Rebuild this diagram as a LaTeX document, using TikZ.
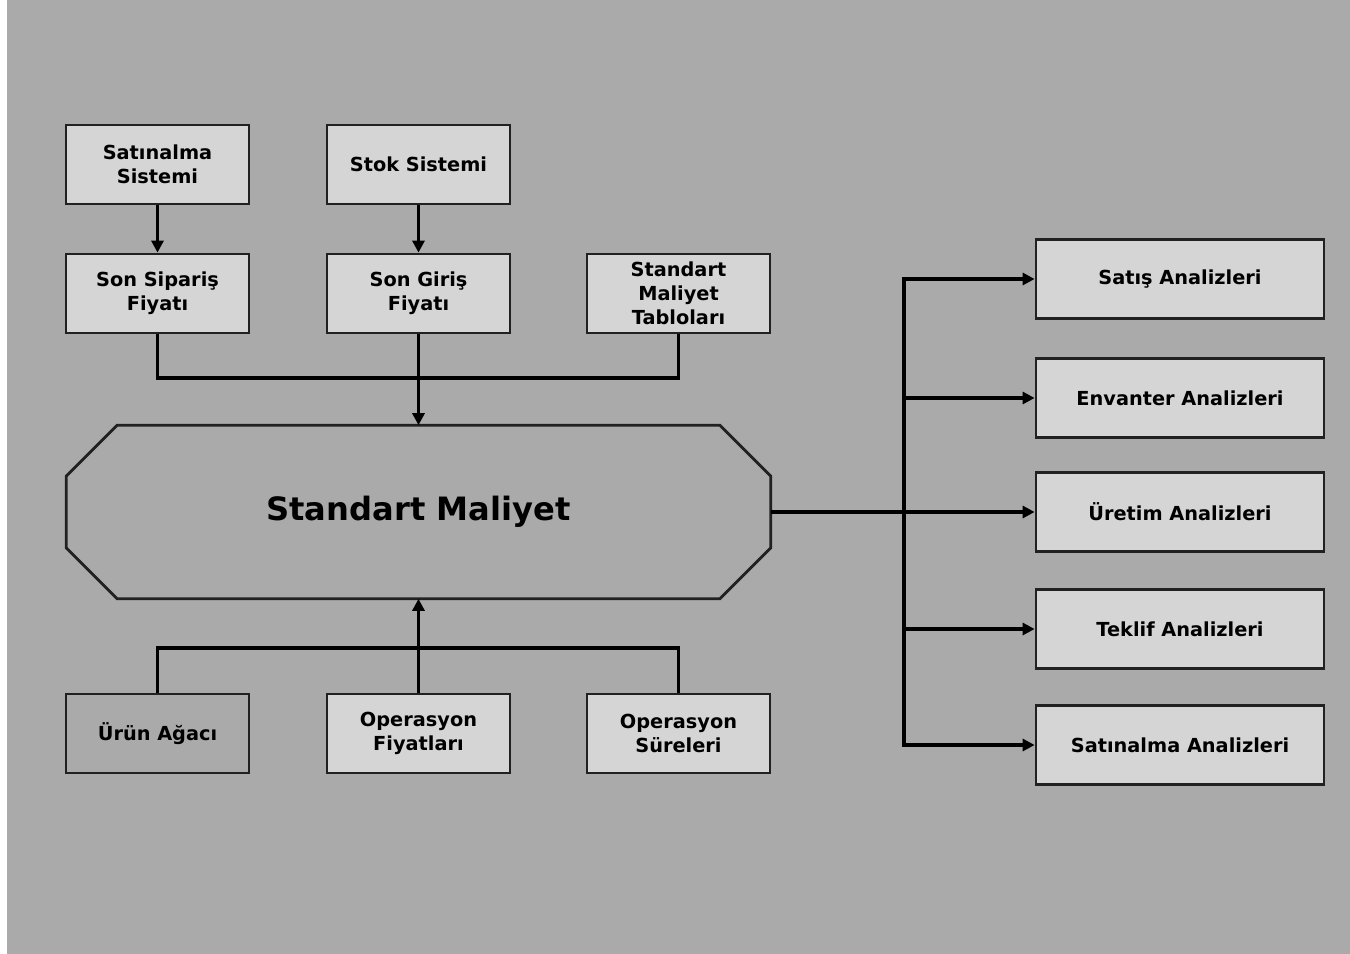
\documentclass[tikz,border=0pt]{standalone}
\usepackage{fontspec}
\setmainfont{DejaVu Sans}
\usetikzlibrary{arrows.meta,calc}

\definecolor{bggray}{gray}{0.667}
\definecolor{boxgray}{gray}{0.835}
\definecolor{edgegray}{gray}{0.13}

\begin{document}
\begin{tikzpicture}[
    x=0.02cm,y=-0.02cm,
    box/.style={rectangle,draw=edgegray,line width=1.6pt,fill=boxgray,minimum width=3.66cm,minimum height=1.58cm,align=center,inner sep=1pt,font=\bfseries\fontsize{11}{13.6}\selectfont},
    widebox/.style={box,minimum width=5.76cm},
    line/.style={line width=2.2pt,black},
    arrow/.style={line,-{Triangle[length=2.4mm,width=2.4mm]}}
]

% Background
\useasboundingbox (0,0) rectangle (1350,954);
\fill[white] (0,0) rectangle (1350,954);
\fill[bggray] (7,0) rectangle (1350,954);

% Input sources
\node[box] (satsis) at (157.5,164.5) {Satınalma\\Sistemi};
\node[box] (stok) at (418.5,164.5) {Stok Sistemi};
\node[box] (sonsip) at (157.5,293.5) {Son Sipariş\\Fiyatı};
\node[box] (songir) at (418.5,293.5) {Son Giriş\\Fiyatı};
\node[box] (tablo) at (678.5,293.5) {Standart\\Maliyet\\Tabloları};

% Central block
\node[minimum width=14.08cm,minimum height=3.46cm,inner sep=0pt,font=\bfseries\fontsize{18.3}{22}\selectfont] (sm) at (418.5,512) {Standart Maliyet};
\draw[draw=edgegray,line width=1.6pt]
    ($(sm.north west)+(51,0)$) -- ($(sm.north east)+(-51,0)$) -- ($(sm.north east)+(0,51)$)
    -- ($(sm.south east)+(0,-51)$) -- ($(sm.south east)+(-51,0)$) -- ($(sm.south west)+(51,0)$)
    -- ($(sm.south west)+(0,-51)$) -- ($(sm.north west)+(0,51)$) -- cycle;

% Product data
\node[box,fill=bggray] (urun) at (157.5,733.5) {Ürün Ağacı};
\node[box] (opfiy) at (418.5,733.5) {Operasyon\\Fiyatları};
\node[box] (opsur) at (678.5,733.5) {Operasyon\\Süreleri};

% Analyses
\node[widebox] (satis) at (1180,279) {Satış Analizleri};
\node[widebox] (envanter) at (1180,398) {Envanter Analizleri};
\node[widebox] (uretim) at (1180,512) {Üretim Analizleri};
\node[widebox] (teklif) at (1180,629) {Teklif Analizleri};
\node[widebox] (satan) at (1180,745) {Satınalma Analizleri};

% Connections (top)
\coordinate (topbus) at (418.5,378);
\draw[arrow] (satsis) -- (sonsip);
\draw[arrow] (stok) -- (songir);
\draw[line] (sonsip.south) |- (topbus) -| (tablo.south);
\draw[arrow] (songir.south) -- (sm.north);

% Connections (bottom)
\coordinate (botbus) at (418.5,648);
\draw[line] (urun.north) |- (botbus) -| (opsur.north);
\draw[arrow] (opfiy.north) -- (sm.south);

% Connections (right)
\coordinate (rbus) at (904,512);
\draw[line] (sm.east) -- (rbus);
\foreach \n in {satis,envanter,uretim,teklif,satan} {
    \draw[arrow] (rbus) |- (\n.west);
}

\end{tikzpicture}
\end{document}
